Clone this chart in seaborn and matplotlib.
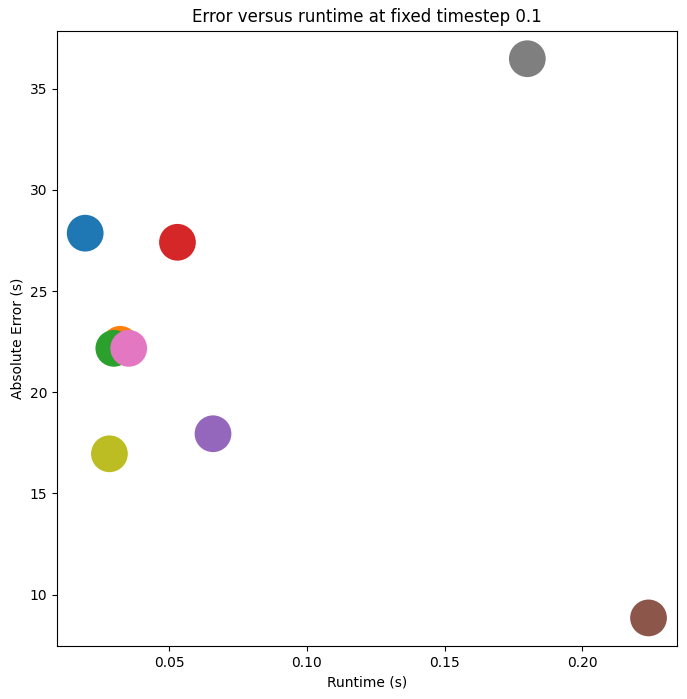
import matplotlib
matplotlib.use("Agg")
import matplotlib.pyplot as plt
from matplotlib.ticker import MultipleLocator
import pandas as pd
import seaborn as sns

methods = ["m1", "m2", "m3", "m4", "m5", "m6", "m7", "m8", "m9"]
runtime = [0.0195, 0.0322, 0.0299, 0.0530, 0.0659, 0.2240, 0.0353, 0.1800, 0.0283]
abs_error = [27.86, 22.37, 22.17, 27.41, 17.95, 8.85, 22.17, 36.48, 16.96]

df = pd.DataFrame({"method": methods, "runtime": runtime, "error": abs_error})

fig, ax = plt.subplots(figsize=(6.87, 6.99), dpi=100)
sns.scatterplot(data=df, x="runtime", y="error", hue="method",
                palette="tab10", s=700, linewidth=0, legend=False, ax=ax)
ax.xaxis.set_major_locator(MultipleLocator(0.05))
ax.set_title("Error versus runtime at fixed timestep 0.1")
ax.set_xlabel("Runtime (s)")
ax.set_ylabel("Absolute Error (s)")
fig.subplots_adjust(left=0.083, right=0.985, top=0.956, bottom=0.076)
fig.savefig("out.png")
